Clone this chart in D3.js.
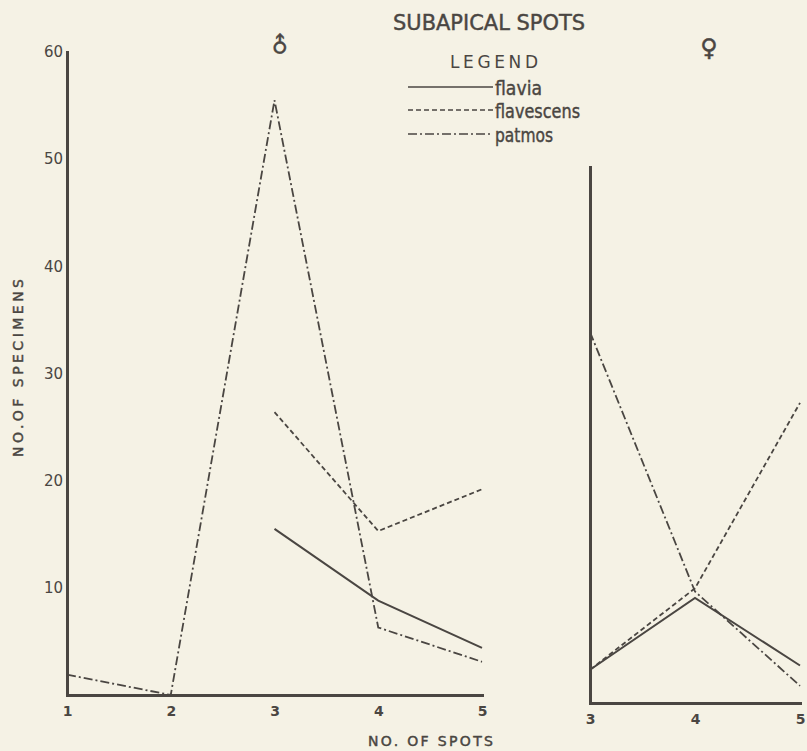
<!DOCTYPE html>
<html>
<head>
<meta charset="utf-8">
<script src="https://cdn.jsdelivr.net/npm/d3@7"></script>
<style>
  html, body { margin: 0; padding: 0; background: #f5f2e5; }
  svg { display: block; }
  text { fill: #4a4642; font-family: "DejaVu Sans", sans-serif; }
  .heavy { stroke: #4a4642; stroke-width: 0.45px; }
</style>
</head>
<body>
<svg id="chart" width="807" height="751"></svg>
<script>
// Subapical spots — number of specimens per spot count, male and female panels.

const maleSpots = [1, 2, 3, 4, 5];
const maleFlavia = [null, null, 15.5, 8.8, 4.4];
const maleFlavescens = [null, null, 26.4, 15.3, 19.2];
const malePatmos = [1.9, 0, 55.5, 6.3, 3.1];

const femaleSpots = [3, 4, 5];
const femaleFlavia = [3.1, 9.8, 3.5];
const femaleFlavescens = [3.1, 10.7, 28];
const femalePatmos = [34.6, 10.4, 1.6];

const yTicks = [10, 20, 30, 40, 50, 60];
const seriesNames = ['flavia', 'flavescens', 'patmos'];

const INK = '#4a4642';
const DASH = { flavia: null, flavescens: '5,3', patmos: '9,3,2,3' };

const svg = d3.select('#chart');

// scales: both panels share the vertical unit (about 10.7 px per specimen)
const xL = d3.scaleLinear().domain([1, 5]).range([67, 482]);
const yL = d3.scaleLinear().domain([0, 60]).range([695, 52]);
const xR = d3.scaleLinear().domain([3, 5]).range([590, 800]);
const yR = d3.scaleLinear().domain([0, 50]).range([703, 167]);

function styleAxis(g, bold) {
  g.select('.domain').attr('stroke', INK).attr('stroke-width', 3).attr('stroke-linecap', 'square');
  g.selectAll('.tick line').remove();
  g.selectAll('.tick text')
    .attr('fill', INK)
    .attr('font-size', bold ? 14 : 15)
    .attr('font-weight', bold ? 'bold' : 'normal')
    .attr('font-family', '"DejaVu Sans", sans-serif');
}

// left (male) panel axes
svg.append('g').attr('transform', `translate(${xL(1)},0)`)
  .call(d3.axisLeft(yL).tickValues(yTicks).tickSize(0).tickPadding(4))
  .call(g => styleAxis(g, false));
svg.append('g').attr('transform', `translate(0,${yL(0)})`)
  .call(d3.axisBottom(xL).tickValues(maleSpots).tickFormat(d3.format('d')).tickSize(0).tickPadding(11))
  .call(g => styleAxis(g, true));

// right (female) panel axes, unlabelled vertical
svg.append('g').attr('transform', `translate(${xR(3)},0)`)
  .call(d3.axisLeft(yR).tickValues([]).tickSizeOuter(0))
  .call(g => styleAxis(g, false));
svg.append('g').attr('transform', `translate(0,${yR(0)})`)
  .call(d3.axisBottom(xR).tickValues(femaleSpots).tickFormat(d3.format('d')).tickSize(0).tickPadding(11))
  .call(g => styleAxis(g, true));

function drawSeries(xs, vals, x, y, name) {
  const pts = xs.map((s, i) => ({ s, v: vals[i] }));
  const line = d3.line().defined(d => d.v != null).x(d => x(d.s)).y(d => y(d.v));
  svg.append('path')
    .datum(pts)
    .attr('d', line)
    .attr('fill', 'none')
    .attr('stroke', INK)
    .attr('stroke-width', name === 'flavia' ? 2 : 1.8)
    .attr('stroke-dasharray', DASH[name]);
}

drawSeries(maleSpots, maleFlavia, xL, yL, 'flavia');
drawSeries(maleSpots, maleFlavescens, xL, yL, 'flavescens');
drawSeries(maleSpots, malePatmos, xL, yL, 'patmos');
drawSeries(femaleSpots, femaleFlavia, xR, yR, 'flavia');
drawSeries(femaleSpots, femaleFlavescens, xR, yR, 'flavescens');
drawSeries(femaleSpots, femalePatmos, xR, yR, 'patmos');

// titles and labels
svg.append('text').attr('class', 'heavy').attr('x', 393).attr('y', 30)
  .attr('font-size', 22).attr('textLength', 192).attr('lengthAdjust', 'spacingAndGlyphs')
  .text('SUBAPICAL SPOTS');

svg.append('text').attr('x', 450).attr('y', 68)
  .attr('font-size', 17).attr('textLength', 88).attr('lengthAdjust', 'spacing')
  .text('LEGEND');

svg.append('text').attr('class', 'heavy')
  .attr('transform', 'translate(280,45) rotate(-45)')
  .attr('text-anchor', 'middle').attr('dominant-baseline', 'central')
  .attr('font-size', 22).text('♂');
svg.append('text').attr('class', 'heavy').attr('x', 709).attr('y', 48)
  .attr('text-anchor', 'middle').attr('dominant-baseline', 'central')
  .attr('font-size', 24).text('♀');

svg.append('text').attr('class', 'heavy')
  .attr('transform', 'translate(23,368) rotate(-90)')
  .attr('text-anchor', 'middle')
  .attr('font-size', 14).attr('textLength', 178).attr('lengthAdjust', 'spacing')
  .text('NO.OF SPECIMENS');

svg.append('text').attr('class', 'heavy').attr('x', 368).attr('y', 746)
  .attr('font-size', 14).attr('textLength', 125).attr('lengthAdjust', 'spacing')
  .text('NO. OF SPOTS');

// legend
const legendY = [87, 110, 134];
const legendW = [47, 85, 58];
const lg = svg.append('g').selectAll('g').data(seriesNames).join('g');
lg.append('line')
  .attr('x1', 408).attr('x2', 493)
  .attr('y1', (d, i) => legendY[i]).attr('y2', (d, i) => legendY[i])
  .attr('stroke', INK).attr('stroke-width', 1.6)
  .attr('stroke-dasharray', d => DASH[d]);
lg.append('text').attr('class', 'heavy')
  .attr('x', 495).attr('y', (d, i) => legendY[i] + 8)
  .attr('font-size', 20).attr('textLength', (d, i) => legendW[i]).attr('lengthAdjust', 'spacingAndGlyphs')
  .text(d => d);
</script>
</body>
</html>
